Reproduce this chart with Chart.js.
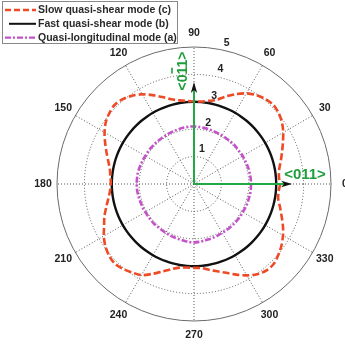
<!DOCTYPE html>
<html><head><meta charset="utf-8">
<script src="https://cdn.jsdelivr.net/npm/chart.js@4"></script>
<style>html,body{margin:0;padding:0;background:#fff;overflow:hidden}</style>
</head><body>
<canvas id="c" width="345" height="345"></canvas>
<script>
// ---- data ----
const angles = [0,5,10,15,20,25,30,35,40,45,50,55,60,65,70,75,80,85,
  90,95,100,105,110,115,120,125,130,135,140,145,150,155,160,165,170,175,
  180,185,190,195,200,205,210,215,220,225,230,235,240,245,250,255,260,265,
  270,275,280,285,290,295,300,305,310,315,320,325,330,335,340,345,350,355];
const angleTickLabels = [0,30,60,90,120,150,180,210,240,270,300,330];
const radialTicks = [1,2,3,4,5];
const slowShear = [3.14,3.11,3.16,3.28,3.42,3.58,3.76,3.92,4.03,4.09,4.05,3.96,3.82,3.62,3.40,3.18,3.08,3.02,
  3.02,3.04,3.10,3.20,3.38,3.58,3.78,3.93,4.04,4.09,4.03,3.93,3.77,3.58,3.40,3.24,3.12,3.06,
  3.04,3.08,3.18,3.32,3.48,3.62,3.80,3.95,4.05,4.10,4.04,3.94,3.84,3.62,3.40,3.22,3.10,3.06,
  3.06,3.08,3.18,3.30,3.45,3.65,3.85,4.02,4.12,4.12,4.02,3.90,3.75,3.58,3.40,3.25,3.12,3.10];
const fastShear = [3.00,3.00,3.00,3.00,3.00,3.00,3.00,3.00,3.00,3.00,3.00,3.00,3.00,3.00,3.00,3.00,3.00,3.00,
  3.00,3.00,3.00,3.00,3.00,3.00,3.00,3.00,3.00,3.00,3.00,3.00,3.00,3.00,3.00,3.00,3.00,3.00,
  3.00,3.00,3.00,3.00,3.00,3.00,3.00,3.00,3.00,3.00,3.00,3.00,3.00,3.00,3.00,3.00,3.00,3.00,
  3.00,3.00,3.00,3.00,3.00,3.00,3.00,3.00,3.00,3.00,3.00,3.00,3.00,3.00,3.00,3.00,3.00,3.00];
const quasiLong = [2.08,2.08,2.07,2.07,2.06,2.05,2.05,2.04,2.04,2.05,2.04,2.04,2.05,2.05,2.06,2.07,2.08,2.09,
  2.10,2.10,2.09,2.08,2.07,2.06,2.05,2.05,2.05,2.05,2.05,2.05,2.05,2.06,2.07,2.08,2.09,2.09,
  2.09,2.09,2.08,2.07,2.06,2.06,2.05,2.05,2.05,2.06,2.05,2.05,2.06,2.07,2.08,2.09,2.10,2.12,
  2.13,2.12,2.10,2.09,2.08,2.07,2.06,2.06,2.06,2.06,2.06,2.06,2.06,2.06,2.07,2.07,2.08,2.08];
const seriesNames = ['Slow quasi-shear mode (c)', 'Fast quasi-shear mode (b)', 'Quasi-longitudinal mode (a)'];
const arrowLength = {along0: 3.58, along90: 3.72};
const dirLabel = '<011>';

// radar places index j clockwise; reorder so the angle runs counter-clockwise from the right
const N = angles.length;
const reorder = arr => arr.map((_, j) => arr[(N - j) % N]);
const indexOfAngle = a => (N - angles.indexOf(a)) % N;

const FONT = '"Liberation Sans", Arial, sans-serif';
const styles = [
  {color: '#ee4a26', width: 2.6, dash: [7, 3]},
  {color: '#111111', width: 2.4, dash: []},
  {color: '#c452c8', width: 2.6, dash: [6, 2, 2, 2]}
];
const series = [slowShear, fastShear, quasiLong];

const overlay = {
  id: 'overlay',
  afterDatasetsDraw(chart) {
    const s = chart.scales.r, ctx = chart.ctx;
    const cx = s.xCenter, cy = s.yCenter;
    const green = '#22a845';
    const arrow = (j, val) => {
      const tip = s.getPointPosition(j, s.getDistanceFromCenterForValue(val));
      const ang = Math.atan2(tip.y - cy, tip.x - cx);
      const L = 11, W = 3.2;
      ctx.save();
      ctx.strokeStyle = green; ctx.lineWidth = 2;
      ctx.beginPath(); ctx.moveTo(cx, cy);
      ctx.lineTo(tip.x - Math.cos(ang) * (L - 3), tip.y - Math.sin(ang) * (L - 3));
      ctx.stroke();
      ctx.translate(tip.x, tip.y); ctx.rotate(ang);
      ctx.fillStyle = '#111';
      ctx.beginPath(); ctx.moveTo(0, 0); ctx.lineTo(-L, -W); ctx.lineTo(-L + 3, 0); ctx.lineTo(-L, W);
      ctx.closePath(); ctx.fill();
      ctx.restore();
    };
    arrow(indexOfAngle(0), arrowLength.along0);
    arrow(indexOfAngle(90), arrowLength.along90);

    ctx.save();
    ctx.fillStyle = '#1f9e3c';
    ctx.font = 'bold 15px ' + FONT;
    ctx.textAlign = 'center'; ctx.textBaseline = 'middle';
    ctx.fillText(dirLabel, cx + 111, cy - 9);
    // vertical label with a bar over the first "1"
    ctx.translate(cx - 11, cy - 113);
    ctx.rotate(-Math.PI / 2);
    ctx.font = 'bold 14px ' + FONT;
    ctx.fillText(dirLabel, 0, 0);
    const w = ctx.measureText(dirLabel).width;
    const x0 = -w / 2 + ctx.measureText('<0').width;
    const w1 = ctx.measureText('1').width;
    ctx.strokeStyle = '#1f9e3c'; ctx.lineWidth = 1.6;
    ctx.beginPath(); ctx.moveTo(x0 + 1, -11); ctx.lineTo(x0 + w1 - 1, -11); ctx.stroke();
    ctx.restore();
  },
  afterDraw(chart) {
    const s = chart.scales.r, ctx = chart.ctx;
    const cx = s.xCenter, cy = s.yCenter;
    ctx.save();
    ctx.fillStyle = '#222';
    ctx.font = 'bold 10.5px ' + FONT;
    ctx.textAlign = 'center'; ctx.textBaseline = 'middle';
    const outer = s.getDistanceFromCenterForValue(5);
    angleTickLabels.forEach(a => {
      const p = s.getPointPosition(indexOfAngle(a), outer + 14);
      ctx.fillText(String(a), p.x, p.y);
    });
    const ta = 77 * Math.PI / 180;
    radialTicks.forEach(v => {
      const d = s.getDistanceFromCenterForValue(v) + 8;
      ctx.fillText(String(v), cx + Math.cos(ta) * d, cy - Math.sin(ta) * d);
    });
    // legend box
    ctx.fillStyle = '#fff';
    ctx.fillRect(2.5, 1.5, 175, 42);
    ctx.strokeStyle = '#888'; ctx.lineWidth = 1;
    ctx.strokeRect(2.5, 1.5, 175, 42);
    ctx.textAlign = 'left';
    ctx.font = 'bold 10.5px ' + FONT;
    seriesNames.forEach((name, i) => {
      const y = 10 + i * 13.8;
      const st = styles[i];
      ctx.save();
      ctx.strokeStyle = st.color; ctx.lineWidth = i === 1 ? 2 : 2.4;
      ctx.setLineDash(i === 0 ? [6, 3] : st.dash);
      ctx.beginPath();
      ctx.moveTo(i === 1 ? 9 : 5, y); ctx.lineTo(36, y); ctx.stroke();
      ctx.restore();
      ctx.fillStyle = '#2a2a2a';
      ctx.fillText(name, 38, y + 0.5);
    });
    ctx.restore();
  }
};

new Chart(document.getElementById('c'), {
  type: 'radar',
  data: {
    labels: reorder(angles).map(String),
    datasets: series.map((arr, i) => ({
      label: seriesNames[i],
      data: reorder(arr),
      borderColor: styles[i].color,
      borderWidth: styles[i].width,
      borderDash: styles[i].dash,
      backgroundColor: 'transparent',
      fill: false,
      pointRadius: 0,
      tension: 0.3
    }))
  },
  options: {
    responsive: false,
    animation: false,
    devicePixelRatio: 1,
    layout: {padding: {left: 57, right: 14, top: 47, bottom: 24}},
    plugins: {legend: {display: false}, tooltip: {enabled: false}},
    scales: {
      r: {
        min: 0, max: 5, startAngle: 90,
        ticks: {display: false, stepSize: 1},
        pointLabels: {display: false},
        grid: {circular: true, lineWidth: 1,
          color: c => (c.tick && c.tick.value === 5) ? '#6a6a6a' : '#555'},
        border: {dash: c => (c.tick && c.tick.value === 5) ? [] : [1, 2]},
        angleLines: {
          color: c => (Number(c.label) % 30 === 0) ? '#555' : 'rgba(0,0,0,0)',
          lineWidth: c => (Number(c.label) % 30 === 0) ? 1 : 0,
          borderDash: [1, 2]
        }
      }
    }
  },
  plugins: [overlay]
});
</script>
</body></html>
